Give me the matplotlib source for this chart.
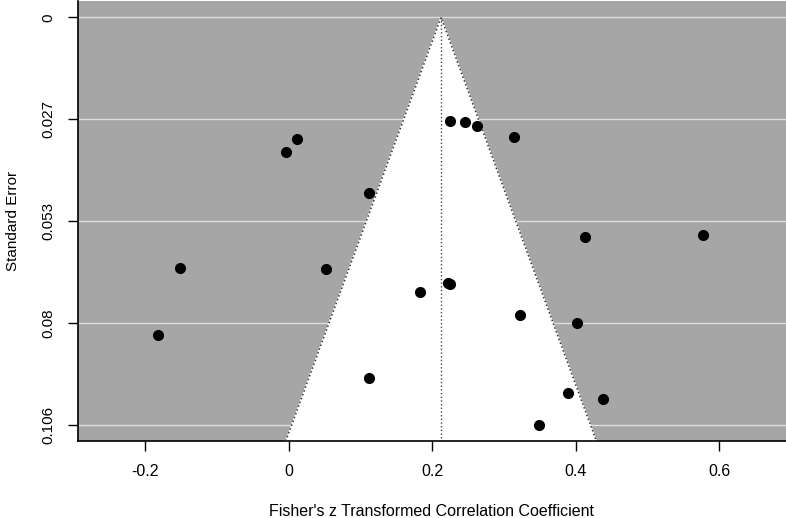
import numpy as np
import matplotlib
matplotlib.use("Agg")
import matplotlib.pyplot as plt

plt.rcParams['font.family'] = ['Liberation Sans', 'DejaVu Sans']

# study estimates (Fisher's z) and standard errors
z = [0.2244, 0.2453, 0.2616, 0.3136, 0.0107, -0.0046, 0.1115, 0.4126,
     0.5774, -0.1515, 0.0511, 0.2216, 0.2251, 0.1826, 0.3220, 0.4014,
     -0.1826, 0.1115, 0.3893, 0.4372, 0.3484]
se = [0.0270, 0.0273, 0.0282, 0.0311, 0.0316, 0.0350, 0.0458, 0.0572,
      0.0566, 0.0654, 0.0656, 0.0693, 0.0696, 0.0715, 0.0776, 0.0797,
      0.0827, 0.0939, 0.0980, 0.0994, 0.1062]
est = 0.212
yticks = [0, 0.02655, 0.0531, 0.07965, 0.1062]
ylabels = ['0', '0.027', '0.053', '0.08', '0.106']
xticks = [-0.2, 0, 0.2, 0.4, 0.6]
xlabels = ['-0.2', '0', '0.2', '0.4', '0.6']

fig = plt.figure(figsize=(7.86, 5.18), dpi=100)
ax = fig.add_axes([0.0992, 0.1486, 0.9008, 0.8494])
ymax = 0.1104
ax.set_xlim(-0.294, 0.6927)
ax.set_ylim(ymax, -0.00425)
ax.set_facecolor('#a6a6a6')

for t in yticks:
    ax.axhline(t, color='#dedede', lw=1.0, zorder=1)

# funnel
hw = 1.96 * ymax
ax.fill([est - hw, est, est + hw], [ymax, 0, ymax], color='white', zorder=2)
ax.plot([est - hw, est, est + hw], [ymax, 0, ymax], color='#333333',
        ls=':', lw=1.1, zorder=3)
ax.plot([est, est], [0, ymax], color='#444444', ls=':', lw=1.0, zorder=3)

ax.plot(z, se, 'o', color='black', ms=7, zorder=4)

ax.spines['top'].set_visible(False)
ax.spines['right'].set_visible(False)
ax.spines['left'].set_linewidth(1.2)
ax.spines['bottom'].set_linewidth(1.2)

ax.set_xticks(xticks)
ax.set_xticklabels(xlabels)
ax.set_yticks(yticks)
ax.set_yticklabels(ylabels, rotation=90, va='center')
ax.tick_params(axis='both', length=7.5, width=1.0)
ax.tick_params(axis='x', pad=9, labelsize=11.5)
ax.tick_params(axis='y', pad=9, labelsize=11)

ax.set_xlabel("Fisher's z Transformed Correlation Coefficient", fontsize=11.5,
              labelpad=18)
ax.set_ylabel('Standard Error', fontsize=11, labelpad=15)

fig.savefig('out.png', dpi=100)
